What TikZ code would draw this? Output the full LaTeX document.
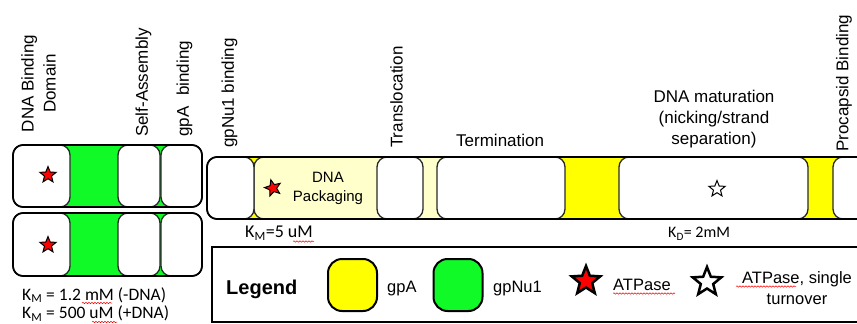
\documentclass[tikz,border=0pt]{standalone}
\usepackage{fontspec}
\setmainfont{Liberation Sans}
\newfontfamily\calib{Carlito}
\usetikzlibrary{shapes.geometric,decorations.pathmorphing}
\definecolor{gnu}{RGB}{16,250,40}
\definecolor{gpa}{RGB}{255,255,0}
\definecolor{lightpa}{RGB}{255,255,204}
\definecolor{boxline}{RGB}{40,40,40}
\tikzset{
  bar/.style={draw=black, line width=1.6pt, rounded corners=10pt},
  seg/.style={draw=boxline, line width=1.3pt, fill=white, rounded corners=10pt},
  lab/.style={font=\fontsize{17}{20.5}\selectfont, inner sep=0pt},
  rlab/.style={lab, rotate=90, anchor=west},
  blab/.style={lab, anchor=base},
  kval/.style={font=\calib\fontsize{16}{19}\selectfont, inner sep=0pt, anchor=base west},
  kbig/.style={font=\calib\fontsize{17.5}{21}\selectfont, inner sep=0pt, anchor=base west},
  legtxt/.style={font=\fontsize{16.5}{20}\selectfont, inner sep=0pt},
  redstar/.style={star, star points=5, star point ratio=2.3, fill=red, draw=black, line width=1pt, inner sep=0pt, minimum size=17pt},
  openstar/.style={star, star points=5, star point ratio=2.3, fill=white, draw=black, line width=1pt, inner sep=0pt, minimum size=17pt},
  swatch/.style={draw=black, line width=2pt, rounded corners=14pt, minimum width=49pt, minimum height=52pt, inner sep=0pt},
  wave/.style={red, line width=0.5pt, decorate, decoration={snake, amplitude=0.7pt, segment length=3pt}},
}
\begin{document}
\begin{tikzpicture}[x=1pt,y=-1pt]
\path[use as bounding box] (0,0) rectangle (857,324);
\clip (0,0) rectangle (857,324);

% left gpNu1 bars
\foreach \t/\b in {145/207, 213/276} {
  \draw[bar, fill=gnu] (13,\t) rectangle (202,\b);
  \draw[seg] (13,\t) rectangle (70,\b);
  \draw[seg] (118,\t) rectangle (160,\b);
  \draw[seg] (161,\t) rectangle (202,\b);
  \draw[bar] (13,\t) rectangle (202,\b);
}
\node[redstar] (star1) at (48,175) {};
\node[redstar] (star2) at (48,245) {};

% main gpA bar
\draw[bar, fill=gpa] (207,157) rectangle (900,219);
\draw[seg, fill=lightpa] (254,157) rectangle (450,219);
\draw[seg] (207,157) rectangle (254,219);
\draw[seg] (377,157) rectangle (423,219);
\draw[seg] (437,157) rectangle (565,219);
\draw[seg] (619,157) rectangle (808,219);
\draw[seg] (833,157) rectangle (900,219);
\draw[bar] (207,157) rectangle (900,219);
\node[redstar, rotate=15] (star3) at (273,188) {};
\node[openstar] (star4) at (717,189) {};

% packaging label
\node[blab, font=\fontsize{15}{18}\selectfont] (pk1) at (328,182) {DNA};
\node[blab, font=\fontsize{15}{18}\selectfont] (pk2) at (328,201) {Packaging};

% rotated labels
\node[lab, rotate=90, anchor=base] (dbd1) at (33.5,83.5) {DNA Binding};
\node[lab, rotate=90, anchor=base] (dbd2) at (55.5,83.5) {Domain};
\node[rlab] (selfas) at (143.5,137) {Self-Assembly};
\node[rlab] (gpab) at (184.5,137) {gpA\hspace{0.35em} binding};
\node[rlab] (gpnub) at (229.5,148) {gpNu1 binding};
\node[rlab] (transl) at (396.5,148) {Translocation};
\node[rlab] (procap) at (844,152) {Procapsid Binding};

% horizontal labels
\node[lab, anchor=base west] (term) at (456,146.5) {Termination};
\node[blab] (mat1) at (714,102) {DNA maturation};
\node[blab] (mat2) at (714,123) {(nicking/strand};
\node[blab] (mat3) at (714,144) {separation)};

% constants
\node[kbig] (km1) at (22,300) {K\textsubscript{M} = 1.2 mM (-DNA)};
\node[kbig] (km2) at (22,318.5) {K\textsubscript{M} = 500 uM (+DNA)};
\node[kval, font=\calib\fontsize{18}{21}\selectfont] (km3) at (245,237.5) {K\textsubscript{M}=5 uM};
\node[kval] (kd) at (668,237.5) {K\textsubscript{D}= 2mM};
\draw[wave] (82,303) -- (112,303);
\draw[wave] (92,322) -- (117,322);
\draw[wave] (293,241.5) -- (314,241.5);

% legend
\draw[line width=2.2pt] (212,247) rectangle (900,322);
\node[inner sep=0pt, anchor=base west, font=\bfseries\fontsize{20}{24}\selectfont] (leg) at (226,294) {Legend};
\node[swatch, fill=gpa] (swa) at (352.5,285) {};
\node[legtxt, anchor=base west] (tgpa) at (387,292) {gpA};
\node[swatch, fill=gnu] (swnu) at (458,285) {};
\node[legtxt, anchor=base west] (tgpnu) at (493,292) {gpNu1};
\node[redstar, minimum size=30pt, line width=2.5pt] (lstar1) at (586,281) {};
\node[legtxt, anchor=base west] (tatp) at (613,290) {ATPase};
\node[openstar, minimum size=30pt, line width=2.5pt] (lstar2) at (707,282) {};
\node[legtxt, anchor=base] (tatp2a) at (797,283) {ATPase, single};
\node[legtxt, anchor=base] (tatp2b) at (797,304) {turnover};
\draw[wave] (613,293.5) -- (675,293.5);
\draw[wave] (736,286.5) -- (796,286.5);
\end{tikzpicture}
\end{document}
